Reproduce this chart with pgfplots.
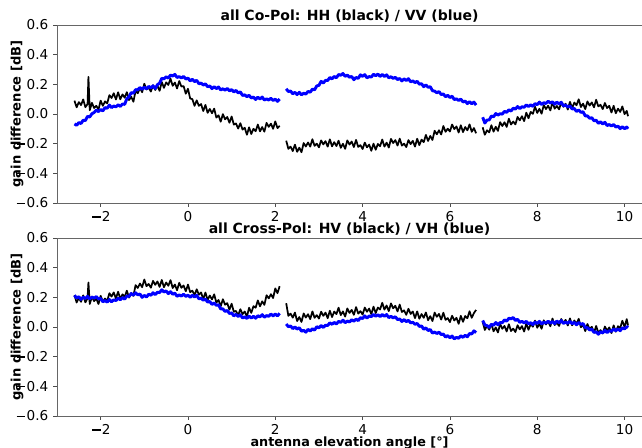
\documentclass[border=0pt]{standalone}
\usepackage{pgfplots}
\pgfplotsset{compat=1.18}
\usepackage{pgfplotstable}
\usepackage{fontspec}
\setmainfont{DejaVu Sans}
\newcommand{\mn}{\kern0.1em\rule[0.28em]{0.63em}{0.12em}\kern0.1em}

\pgfplotstableread{
x hh vv
-2.60 0.090 -0.067
-2.55 0.045 -0.076
-2.50 0.080 -0.058
-2.45 0.060 -0.064
-2.40 0.098 -0.042
-2.35 0.046 -0.044
-2.30 0.067 -0.016
-2.28 0.250 -0.018
-2.25 0.025 -0.020
-2.20 0.075 0.002
-2.15 0.040 0.010
-2.10 0.055 0.026
-2.05 0.030 0.016
-2.00 0.090 0.030
-1.95 0.055 0.021
-1.90 0.085 0.043
-1.85 0.071 0.039
-1.80 0.127 0.060
-1.75 0.108 0.043
-1.70 0.140 0.054
-1.65 0.098 0.048
-1.60 0.146 0.062
-1.55 0.099 0.051
-1.50 0.132 0.067
-1.45 0.110 0.065
-1.40 0.147 0.103
-1.35 0.094 0.116
-1.30 0.116 0.144
-1.25 0.083 0.140
-1.20 0.155 0.164
-1.15 0.140 0.163
-1.10 0.175 0.178
-1.05 0.147 0.167
-1.00 0.204 0.180
-0.95 0.165 0.170
-0.90 0.178 0.186
-0.85 0.151 0.176
-0.80 0.194 0.190
-0.75 0.162 0.172
-0.70 0.190 0.197
-0.65 0.156 0.208
-0.60 0.216 0.240
-0.55 0.176 0.237
-0.50 0.213 0.251
-0.45 0.196 0.242
-0.40 0.238 0.262
-0.35 0.190 0.256
-0.30 0.212 0.267
-0.25 0.172 0.246
-0.20 0.222 0.252
-0.15 0.185 0.243
-0.10 0.188 0.253
-0.05 0.137 0.236
0.00 0.170 0.242
0.05 0.105 0.223
0.10 0.100 0.234
0.15 0.055 0.218
0.20 0.092 0.227
0.25 0.055 0.204
0.30 0.067 0.208
0.35 0.020 0.195
0.40 0.061 0.203
0.45 0.008 0.184
0.50 0.034 0.189
0.55 0.005 0.171
0.60 0.036 0.184
0.65 -0.024 0.171
0.70 -0.009 0.182
0.75 -0.052 0.162
0.80 -0.001 0.170
0.85 -0.036 0.161
0.90 -0.020 0.172
0.95 -0.059 0.156
1.00 -0.017 0.164
1.05 -0.071 0.149
1.10 -0.064 0.159
1.15 -0.098 0.142
1.20 -0.062 0.149
1.25 -0.105 0.125
1.30 -0.093 0.129
1.35 -0.140 0.117
1.40 -0.090 0.126
1.45 -0.135 0.108
1.50 -0.100 0.114
1.55 -0.116 0.098
1.60 -0.071 0.113
1.65 -0.117 0.101
1.70 -0.088 0.114
1.75 -0.119 0.094
1.80 -0.060 0.102
1.85 -0.087 0.094
1.90 -0.065 0.106
1.95 -0.100 0.091
2.00 -0.050 0.100
2.05 -0.095 0.085
2.10 -0.080 0.101
2.17 nan nan
2.25 -0.180 0.170
2.30 -0.235 0.151
2.35 -0.220 0.155
2.40 -0.250 0.136
2.45 -0.207 0.146
2.50 -0.255 0.131
2.55 -0.227 0.146
2.60 -0.258 0.129
2.65 -0.196 0.140
2.70 -0.219 0.134
2.75 -0.192 0.152
2.80 -0.220 0.147
2.85 -0.170 0.167
2.90 -0.215 0.163
2.95 -0.200 0.189
3.00 -0.225 0.193
3.05 -0.178 0.220
3.10 -0.205 0.209
3.15 -0.183 0.226
3.20 -0.220 0.226
3.25 -0.171 0.246
3.30 -0.218 0.237
3.35 -0.190 0.253
3.40 -0.216 0.244
3.45 -0.180 0.266
3.50 -0.228 0.261
3.55 -0.201 0.273
3.60 -0.235 0.254
3.65 -0.178 0.262
3.70 -0.206 0.248
3.75 -0.186 0.253
3.80 -0.223 0.231
3.85 -0.175 0.246
3.90 -0.222 0.240
3.95 -0.210 0.264
4.00 -0.236 0.254
4.05 -0.193 0.265
4.10 -0.225 0.244
4.15 -0.206 0.252
4.20 -0.248 0.249
4.25 -0.200 0.268
4.30 -0.241 0.258
4.35 -0.202 0.269
4.40 -0.217 0.253
4.45 -0.172 0.266
4.50 -0.220 0.253
4.55 -0.193 0.264
4.60 -0.226 0.244
4.65 -0.168 0.251
4.70 -0.196 0.240
4.75 -0.176 0.247
4.80 -0.213 0.232
4.85 -0.166 0.239
4.90 -0.213 0.223
4.95 -0.200 0.237
5.00 -0.223 0.225
5.05 -0.176 0.238
5.10 -0.203 0.217
5.15 -0.181 0.223
5.20 -0.220 0.212
5.25 -0.167 0.220
5.30 -0.210 0.201
5.35 -0.173 0.204
5.40 -0.190 0.184
5.45 -0.141 0.196
5.50 -0.182 0.180
5.55 -0.148 0.184
5.60 -0.175 0.157
5.65 -0.113 0.154
5.70 -0.137 0.143
5.75 -0.110 0.151
5.80 -0.138 0.131
5.85 -0.081 0.135
5.90 -0.120 0.116
5.95 -0.099 0.126
6.00 -0.118 0.111
6.05 -0.071 0.120
6.10 -0.102 0.097
6.15 -0.084 0.102
6.20 -0.125 0.091
6.25 -0.076 0.100
6.30 -0.122 0.081
6.35 -0.088 0.087
6.40 -0.110 0.070
6.45 -0.070 0.083
6.50 -0.120 0.069
6.55 -0.095 0.080
6.60 -0.130 0.060
6.67 nan nan
6.75 -0.090 -0.022
6.80 -0.140 -0.061
6.85 -0.110 -0.041
6.90 -0.124 -0.040
6.95 -0.076 -0.014
7.00 -0.119 -0.019
7.05 -0.086 0.003
7.10 -0.114 -0.007
7.15 -0.055 0.002
7.20 -0.081 -0.001
7.25 -0.056 0.018
7.30 -0.087 0.011
7.35 -0.032 0.028
7.40 -0.071 0.020
7.45 -0.051 0.039
7.50 -0.070 0.033
7.55 -0.020 0.050
7.60 -0.043 0.036
7.65 -0.015 0.049
7.70 -0.048 0.045
7.75 0.009 0.061
7.80 -0.029 0.050
7.85 0.014 0.062
7.90 0.001 0.051
7.95 0.049 0.070
8.00 0.007 0.063
8.05 0.035 0.080
8.10 0.002 0.064
8.15 0.060 0.076
8.20 0.033 0.071
8.25 0.056 0.086
8.30 0.024 0.074
8.35 0.078 0.082
8.40 0.036 0.066
8.45 0.054 0.080
8.50 0.031 0.068
8.55 0.077 0.079
8.60 0.048 0.055
8.65 0.069 0.060
8.70 0.030 0.047
8.75 0.082 0.054
8.80 0.040 0.034
8.85 0.077 0.037
8.90 0.059 0.017
8.95 0.099 0.027
9.00 0.047 0.011
9.05 0.070 0.015
9.10 0.033 -0.013
9.15 0.085 -0.013
9.20 0.057 -0.029
9.25 0.078 -0.025
9.30 0.045 -0.046
9.35 0.096 -0.042
9.40 0.051 -0.063
9.45 0.062 -0.053
9.50 0.033 -0.067
9.55 0.074 -0.056
9.60 0.040 -0.078
9.65 0.055 -0.071
9.70 0.010 -0.081
9.75 0.055 -0.071
9.80 0.005 -0.088
9.85 0.036 -0.082
9.90 0.014 -0.099
9.95 0.051 -0.086
10.00 -0.001 -0.099
10.05 0.021 -0.088
10.08 -0.015 -0.100
}\copol

\pgfplotstableread{
x hv vh
-2.60 0.215 0.213
-2.55 0.165 0.196
-2.50 0.195 0.204
-2.45 0.170 0.186
-2.40 0.213 0.201
-2.35 0.166 0.192
-2.30 0.195 0.207
-2.28 0.300 0.198
-2.25 0.155 0.190
-2.20 0.205 0.202
-2.15 0.174 0.194
-2.10 0.192 0.205
-2.05 0.155 0.189
-2.00 0.210 0.192
-1.95 0.171 0.170
-1.90 0.192 0.178
-1.85 0.175 0.168
-1.80 0.228 0.185
-1.75 0.205 0.170
-1.70 0.233 0.183
-1.65 0.192 0.178
-1.60 0.238 0.194
-1.55 0.189 0.184
-1.50 0.220 0.198
-1.45 0.203 0.188
-1.40 0.245 0.209
-1.35 0.198 0.206
-1.30 0.227 0.226
-1.25 0.210 0.215
-1.20 0.282 0.231
-1.15 0.263 0.217
-1.10 0.293 0.222
-1.05 0.268 0.200
-1.00 0.320 0.213
-0.95 0.275 0.202
-0.90 0.290 0.221
-0.85 0.265 0.214
-0.80 0.311 0.231
-0.75 0.284 0.218
-0.70 0.307 0.234
-0.65 0.270 0.232
-0.60 0.317 0.251
-0.55 0.268 0.236
-0.50 0.300 0.243
-0.45 0.278 0.225
-0.40 0.316 0.238
-0.35 0.263 0.221
-0.30 0.286 0.228
-0.25 0.248 0.207
-0.20 0.298 0.216
-0.15 0.264 0.209
-0.10 0.280 0.221
-0.05 0.241 0.206
0.00 0.286 0.215
0.05 0.235 0.200
0.10 0.245 0.214
0.15 0.215 0.202
0.20 0.254 0.214
0.25 0.218 0.190
0.30 0.233 0.194
0.35 0.188 0.181
0.40 0.232 0.188
0.45 0.182 0.168
0.50 0.212 0.172
0.55 0.186 0.152
0.60 0.220 0.162
0.65 0.165 0.146
0.70 0.182 0.150
0.75 0.140 0.122
0.80 0.187 0.122
0.85 0.150 0.105
0.90 0.161 0.111
0.95 0.117 0.091
1.00 0.157 0.095
1.05 0.103 0.075
1.10 0.108 0.085
1.15 0.078 0.071
1.20 0.120 0.082
1.25 0.087 0.061
1.30 0.104 0.068
1.35 0.070 0.058
1.40 0.130 0.073
1.45 0.095 0.060
1.50 0.140 0.072
1.55 0.130 0.059
1.60 0.179 0.076
1.65 0.139 0.068
1.70 0.173 0.083
1.75 0.149 0.066
1.80 0.214 0.077
1.85 0.193 0.072
1.90 0.221 0.087
1.95 0.195 0.075
2.00 0.260 0.087
2.05 0.228 0.075
2.10 0.275 0.092
2.17 nan nan
2.25 0.160 0.020
2.30 0.075 0.002
2.35 0.090 0.007
2.40 0.063 -0.011
2.45 0.097 0.000
2.50 0.040 -0.014
2.55 0.067 -0.005
2.60 0.034 -0.028
2.65 0.091 -0.023
2.70 0.064 -0.035
2.75 0.086 -0.016
2.80 0.053 -0.027
2.85 0.105 -0.012
2.90 0.062 -0.021
2.95 0.080 0.002
3.00 0.057 -0.006
3.05 0.103 0.010
3.10 0.075 -0.003
3.15 0.097 0.012
3.20 0.059 0.010
3.25 0.110 0.028
3.30 0.067 0.018
3.35 0.104 0.031
3.40 0.087 0.020
3.45 0.130 0.038
3.50 0.080 0.031
3.55 0.105 0.046
3.60 0.070 0.029
3.65 0.125 0.040
3.70 0.095 0.034
3.75 0.115 0.049
3.80 0.082 0.039
3.85 0.134 0.053
3.90 0.090 0.043
3.95 0.107 0.063
4.00 0.084 0.057
4.05 0.131 0.075
4.10 0.103 0.060
4.15 0.124 0.074
4.20 0.086 0.070
4.25 0.137 0.085
4.30 0.094 0.072
4.35 0.131 0.083
4.40 0.118 0.070
4.45 0.163 0.084
4.50 0.117 0.072
4.55 0.145 0.084
4.60 0.107 0.063
4.65 0.159 0.072
4.70 0.126 0.061
4.75 0.143 0.069
4.80 0.105 0.050
4.85 0.151 0.054
4.90 0.101 0.037
4.95 0.112 0.050
5.00 0.082 0.036
5.05 0.123 0.045
5.10 0.088 0.028
5.15 0.104 0.032
5.20 0.060 0.018
5.25 0.105 0.024
5.30 0.056 0.004
5.35 0.087 0.007
5.40 0.062 -0.015
5.45 0.098 -0.006
5.50 0.046 -0.024
5.55 0.073 -0.017
5.60 0.040 -0.041
5.65 0.097 -0.034
5.70 0.069 -0.044
5.75 0.088 -0.035
5.80 0.050 -0.051
5.85 0.096 -0.048
5.90 0.048 -0.068
5.95 0.060 -0.058
6.00 0.033 -0.073
6.05 0.076 -0.061
6.10 0.044 -0.080
6.15 0.062 -0.070
6.20 0.021 -0.076
6.25 0.075 -0.059
6.30 0.035 -0.070
6.35 0.074 -0.056
6.40 0.059 -0.066
6.45 0.106 -0.044
6.50 0.062 -0.047
6.55 0.094 -0.026
6.60 0.115 -0.038
6.67 nan nan
6.75 0.034 0.044
6.80 -0.020 0.014
6.85 0.008 0.009
6.90 -0.018 -0.002
6.95 0.020 0.018
7.00 -0.029 0.012
7.05 -0.003 0.030
7.10 -0.037 0.015
7.15 0.020 0.030
7.20 -0.012 0.029
7.25 0.007 0.048
7.30 -0.030 0.039
7.35 0.019 0.059
7.40 -0.027 0.055
7.45 -0.011 0.064
7.50 -0.034 0.044
7.55 0.012 0.052
7.60 -0.016 0.031
7.65 0.006 0.038
7.70 -0.031 0.028
7.75 0.023 0.038
7.80 -0.019 0.021
7.85 0.020 0.029
7.90 0.002 0.016
7.95 0.043 0.033
8.00 -0.005 0.024
8.05 0.022 0.038
8.10 -0.012 0.021
8.15 0.045 0.032
8.20 0.017 0.026
8.25 0.038 0.039
8.30 0.005 0.026
8.35 0.057 0.037
8.40 0.013 0.023
8.45 0.030 0.040
8.50 0.007 0.029
8.55 0.054 0.043
8.60 0.026 0.024
8.65 0.048 0.033
8.70 0.010 0.025
8.75 0.058 0.038
8.80 0.011 0.022
8.85 0.044 0.031
8.90 0.022 0.015
8.95 0.055 0.030
9.00 -0.002 0.018
9.05 0.015 0.023
9.10 -0.028 -0.004
9.15 0.020 -0.005
9.20 -0.014 -0.020
9.25 0.001 -0.015
9.30 -0.038 -0.036
9.35 0.007 -0.033
9.40 -0.039 -0.049
9.45 -0.021 -0.032
9.50 -0.044 -0.040
9.55 0.003 -0.023
9.60 -0.025 -0.038
9.65 -0.003 -0.025
9.70 -0.041 -0.029
9.75 0.011 -0.013
9.80 -0.032 -0.025
9.85 0.005 -0.013
9.90 -0.007 -0.025
9.95 0.042 -0.006
10.00 0.000 -0.013
10.05 0.053 0.003
10.08 0.010 -0.005
}\xpol

\pgfplotsset{
  panel/.style={
    scale only axis, width=438.75pt, height=133.5pt,
    anchor=south west,
    xmin=-3, xmax=10.4, ymin=-0.6, ymax=0.6,
    xtick={-2,0,2,4,6,8,10},
    xticklabels={{\mn2},{0},{2},{4},{6},{8},{10}},
    ytick={-0.6,-0.4,-0.2,0,0.2,0.4,0.6},
    yticklabels={{\mn0.6},{\mn0.4},{\mn0.2},{0.0},{0.2},{0.4},{0.6}},
    xtick pos=left, ytick pos=left,
    tick align=outside, major tick length=3pt,
    axis line style={black!60, line width=0.6pt},
    tick style={black!70, line width=0.6pt},
    tick label style={font=\fontsize{10.2}{12}\selectfont},
    every axis title/.style={at={(0.5,1)}, anchor=base, yshift=3.2pt, font=\bfseries\fontsize{10.5}{12}\selectfont},
    every axis y label/.style={at={(axis description cs:-0.0684,0.5)}, rotate=90, anchor=center, font=\bfseries\fontsize{9.8}{11}\selectfont},
    xlabel style={font=\bfseries\fontsize{9.6}{11}\selectfont},
    ylabel={gain difference [dB]},
    unbounded coords=jump,
  },
  hline/.style={black, line width=1.3pt, mark=none, line join=round},
  bline/.style={blue, line width=2.2pt, mark=none, line join=round},
}

\begin{document}
\begin{tikzpicture}
\useasboundingbox (0,0) rectangle (481.5pt,336pt);
\begin{axis}[panel, at={(42.75pt,183.75pt)},
  title={all Co-Pol: HH (black) / VV (blue)}]
  \addplot[hline] table[x=x, y=hh] {\copol};
  \addplot[bline] table[x=x, y=vv] {\copol};
\end{axis}
\begin{axis}[panel, at={(42.75pt,24pt)},
  title={all Cross-Pol: HV (black) / VH (blue)},
  xlabel={antenna elevation angle [°]},
  xlabel style={at={(axis description cs:0.5,-0.15)}, anchor=center}]
  \addplot[hline] table[x=x, y=hv] {\xpol};
  \addplot[bline] table[x=x, y=vh] {\xpol};
\end{axis}
\end{tikzpicture}
\end{document}
